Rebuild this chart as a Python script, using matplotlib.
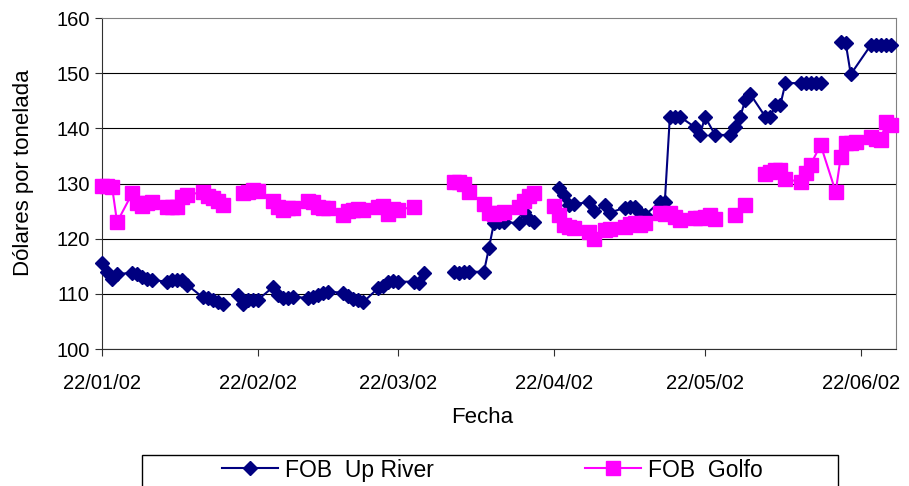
import matplotlib
matplotlib.use('Agg')
import numpy as np
import pandas as pd
import matplotlib.pyplot as plt
import matplotlib.dates as mdates
from matplotlib.patches import Rectangle

plt.rcParams['font.family'] = ['Liberation Sans', 'DejaVu Sans']

# FOB Up River (None = dato faltante, corta la linea)
up_fechas = ['2002-01-22', '2002-01-23', '2002-01-24', '2002-01-25', '2002-01-28', '2002-01-29',
             '2002-01-30', '2002-01-31', '2002-02-01', '2002-02-04', '2002-02-05', '2002-02-06',
             '2002-02-07', '2002-02-08', '2002-02-11', '2002-02-12', '2002-02-13', '2002-02-14',
             '2002-02-15', '2002-02-17', '2002-02-18', '2002-02-19', '2002-02-20', '2002-02-21',
             '2002-02-22', '2002-02-25', '2002-02-26', '2002-02-27', '2002-02-28', '2002-03-01',
             '2002-03-04', '2002-03-05', '2002-03-06', '2002-03-07', '2002-03-08', '2002-03-11',
             '2002-03-12', '2002-03-13', '2002-03-14', '2002-03-15', '2002-03-18', '2002-03-19',
             '2002-03-20', '2002-03-21', '2002-03-22', '2002-03-25', '2002-03-26', '2002-03-27',
             '2002-03-28', '2002-04-02', '2002-04-03', '2002-04-04', '2002-04-05', '2002-04-08',
             '2002-04-09', '2002-04-10', '2002-04-11', '2002-04-12', '2002-04-15', '2002-04-16',
             '2002-04-17', '2002-04-18', '2002-04-19', '2002-04-23', '2002-04-24', '2002-04-25',
             '2002-04-26', '2002-04-29', '2002-04-30', '2002-05-02', '2002-05-03', '2002-05-06',
             '2002-05-07', '2002-05-08', '2002-05-09', '2002-05-10', '2002-05-13', '2002-05-14',
             '2002-05-15', '2002-05-16', '2002-05-17', '2002-05-20', '2002-05-21', '2002-05-22',
             '2002-05-24', '2002-05-27', '2002-05-28', '2002-05-29', '2002-05-30', '2002-05-31',
             '2002-06-03', '2002-06-04', '2002-06-05', '2002-06-06', '2002-06-07', '2002-06-10',
             '2002-06-11', '2002-06-12', '2002-06-13', '2002-06-14', '2002-06-17', '2002-06-18',
             '2002-06-19', '2002-06-20', '2002-06-24', '2002-06-25', '2002-06-26', '2002-06-27',
             '2002-06-28']
up_valores = [115.6, 114.0, 112.6, 113.6, 113.8, 113.6,
              113.0, 112.7, 112.5, 112.2, 112.5, 112.5,
              112.5, 111.6, 109.4, 109.2, 108.8, 108.6,
              108.1, None, 109.8, 108.2, 108.9, 108.9,
              108.9, 111.2, 109.8, 109.3, 109.3, 109.4,
              109.3, 109.5, 109.8, 110.2, 110.4, 110.2,
              109.6, 109.0, 108.9, 108.5, 111.1, 111.5,
              112.2, 112.4, 112.2, 112.2, 112.0, 113.8,
              None, 114.0, 113.8, 114.0, 114.0, 114.0,
              118.3, 122.9, 123.0, 123.0, 122.8, 124.8,
              123.5, 123.0, None, 129.2, 128.0, 126.1,
              126.3, 126.6, 125.0, 126.1, 124.7, 125.6,
              125.8, 125.8, 124.6, 124.2, 126.7, 126.7,
              142.1, 142.1, 142.1, 140.2, 138.8, 142.1,
              138.8, 138.8, 140.2, 142.1, 145.1, 146.2,
              142.1, 142.1, 144.2, 144.3, 148.2, 148.2,
              148.2, 148.2, 148.2, 148.2, None, 155.7,
              155.4, 149.8, 155.1, 155.1, 155.1, 155.1,
              155.1]

# FOB Golfo
golfo_fechas = ['2002-01-22', '2002-01-23', '2002-01-24', '2002-01-25', '2002-01-28', '2002-01-29',
                '2002-01-30', '2002-01-31', '2002-02-01', '2002-02-04', '2002-02-05', '2002-02-06',
                '2002-02-07', '2002-02-08', '2002-02-11', '2002-02-12', '2002-02-13', '2002-02-14',
                '2002-02-15', '2002-02-17', '2002-02-19', '2002-02-20', '2002-02-21', '2002-02-22',
                '2002-02-25', '2002-02-26', '2002-02-27', '2002-02-28', '2002-03-01', '2002-03-04',
                '2002-03-05', '2002-03-06', '2002-03-07', '2002-03-08', '2002-03-11', '2002-03-12',
                '2002-03-13', '2002-03-14', '2002-03-15', '2002-03-18', '2002-03-19', '2002-03-20',
                '2002-03-21', '2002-03-22', '2002-03-25', '2002-03-28', '2002-04-02', '2002-04-03',
                '2002-04-04', '2002-04-05', '2002-04-08', '2002-04-09', '2002-04-10', '2002-04-11',
                '2002-04-12', '2002-04-15', '2002-04-16', '2002-04-17', '2002-04-18', '2002-04-19',
                '2002-04-22', '2002-04-23', '2002-04-24', '2002-04-25', '2002-04-26', '2002-04-29',
                '2002-04-30', '2002-05-02', '2002-05-03', '2002-05-06', '2002-05-07', '2002-05-08',
                '2002-05-09', '2002-05-10', '2002-05-13', '2002-05-14', '2002-05-15', '2002-05-16',
                '2002-05-17', '2002-05-20', '2002-05-21', '2002-05-22', '2002-05-23', '2002-05-24',
                '2002-05-27', '2002-05-28', '2002-05-30', '2002-05-31', '2002-06-03', '2002-06-04',
                '2002-06-05', '2002-06-06', '2002-06-07', '2002-06-10', '2002-06-11', '2002-06-12',
                '2002-06-14', '2002-06-17', '2002-06-18', '2002-06-19', '2002-06-20', '2002-06-21',
                '2002-06-24', '2002-06-25', '2002-06-26', '2002-06-27', '2002-06-28']
golfo_valores = [129.5, 129.6, 129.4, 123.0, 128.2, 126.5,
                 125.9, 126.4, 126.7, 125.8, 125.7, 125.8,
                 127.6, 128.0, 128.4, 127.8, 127.4, 126.8,
                 126.1, None, 128.3, 128.4, 128.8, 128.6,
                 126.8, 125.8, 125.2, 125.5, 125.6, 126.9,
                 126.6, 125.8, 125.5, 125.5, 124.3, 125.0,
                 125.2, 125.3, 125.2, 125.8, 125.9, 124.4,
                 125.4, 125.2, 125.8, None, 130.3, 130.3,
                 129.9, 128.4, 126.3, 124.7, 124.5, 124.7,
                 124.9, 125.8, 126.9, 127.7, 128.3, None,
                 126.0, 124.3, 122.5, 122.2, 122.0, 121.2,
                 119.9, 121.6, 121.8, 122.1, 122.6, 122.9,
                 122.5, 122.8, 124.6, 124.5, 124.7, 124.0,
                 123.4, 123.8, 123.7, 124.0, 124.2, 123.6,
                 None, 124.3, 126.1, None, 131.8, 132.0,
                 132.4, 132.5, 130.8, 130.3, 131.9, 133.4,
                 137.0, 128.5, 134.8, 137.3, 137.4, 137.6,
                 138.4, 138.0, 137.9, 141.2, 140.6]

ticks_fecha = ['2002-01-22', '2002-02-22', '2002-03-22', '2002-04-22', '2002-05-22', '2002-06-22']

up_x = pd.to_datetime(up_fechas)
up_y = np.array(up_valores, dtype=float)
golfo_x = pd.to_datetime(golfo_fechas)
golfo_y = np.array(golfo_valores, dtype=float)

fig = plt.figure(figsize=(9.09, 4.86), dpi=100)
ax = fig.add_axes([102/909, 1-349/486, (896-102)/909, (349-18)/486])

ax.plot(up_x, up_y, color='#000080', lw=1.5, marker='D', ms=6.8,
        markeredgecolor='#000080', clip_on=False, label='FOB  Up River', zorder=3)
ax.plot(golfo_x, golfo_y, color='#FF00FF', lw=1.5, marker='s', ms=10,
        markeredgecolor='#FF00FF', clip_on=False, label='FOB  Golfo', zorder=4)

ax.set_xlim(pd.Timestamp('2002-01-22'), pd.Timestamp('2002-06-29'))
ax.set_ylim(100, 160)
ax.set_yticks(range(100, 161, 10))
ax.set_xticks(pd.to_datetime(ticks_fecha))
ax.xaxis.set_major_formatter(mdates.DateFormatter('%d/%m/%y'))

ax.grid(axis='y', color='black', lw=0.8)
ax.set_axisbelow(True)
ax.get_ygridlines()[-1].set_visible(False)

for s in ['top', 'right']:
    ax.spines[s].set_color('#808080')
for s in ['left', 'bottom']:
    ax.spines[s].set_color('#303030')
ax.tick_params(direction='out', length=5, color='#303030', labelsize=14.5)
ax.tick_params(axis='x', pad=13)
ax.tick_params(axis='y', pad=4)

ax.set_xlabel('Fecha', fontsize=16)
ax.xaxis.set_label_coords((482-102)/794, -(407-349)/331)
ax.set_ylabel('Dólares por tonelada', fontsize=16)
ax.yaxis.set_label_coords(-(102-34)/794, (349-173)/331)

leg = fig.legend(loc='center', bbox_to_anchor=(492/909, 1-470/486), ncol=2,
                 frameon=False, fontsize=16.5, handlelength=2.45, handletextpad=0.3,
                 columnspacing=6.6)
fig.patches.append(Rectangle((142/909, -0.01), (838-142)/909, 0.01 + 31/486,
                             transform=fig.transFigure, fill=False,
                             edgecolor='black', lw=1))

fig.savefig('out.png', dpi=100)
